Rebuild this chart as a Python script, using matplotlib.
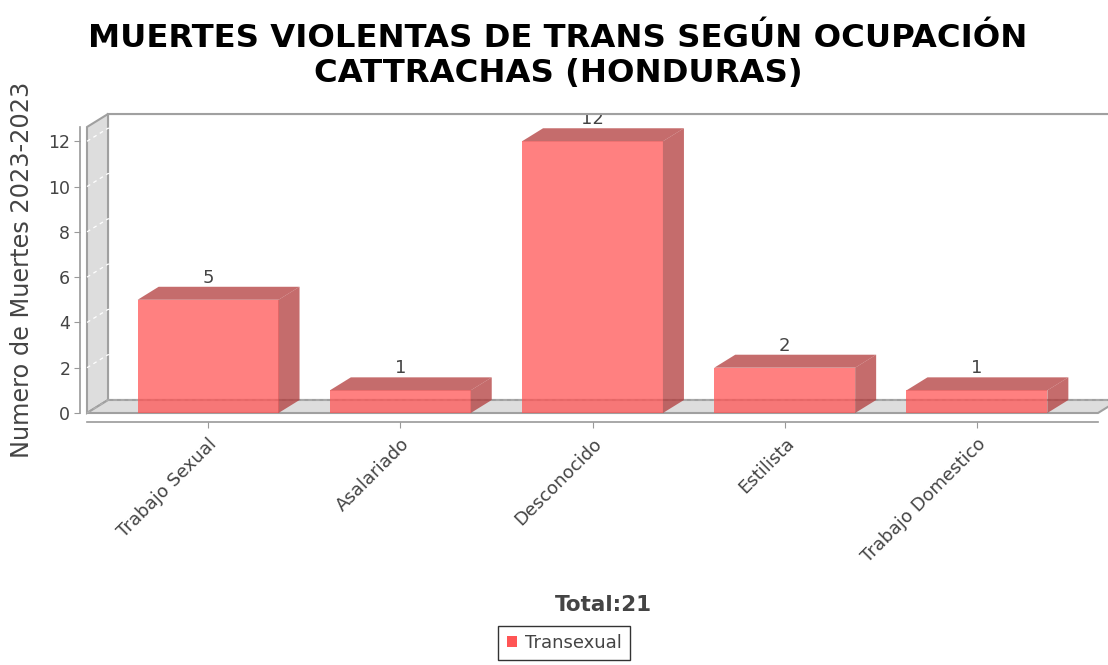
import matplotlib
matplotlib.use("Agg")
import matplotlib.pyplot as plt
from matplotlib.patches import Polygon
from matplotlib.lines import Line2D

categories = ["Trabajo Sexual", "Asalariado", "Desconocido", "Estilista", "Trabajo Domestico"]
values = [5, 1, 12, 2, 1]
series_name = "Transexual"
title = "MUERTES VIOLENTAS DE TRANS SEGÚN OCUPACIÓN\nCATTRACHAS (HONDURAS)"
ylabel = "Numero de Muertes 2023-2023"
total_text = "Total:21"
yticks = [0, 2, 4, 6, 8, 10, 12]

W, H = 1108, 665
fig = plt.figure(figsize=(W / 100, H / 100), dpi=100)
plt.rcParams['font.family'] = ['DejaVu Sans']
PT = 72 / 100  # points per pixel

# front plane of the 3D plot in pixels
L, R, B, T = 87, 1098, 413, 127
ax = fig.add_axes([L / W, (H - B) / H, (R - L) / W, (B - T) / H])
xmin, xmax = -0.63, 4.63
ymin, ymax = 0, 12.63
ax.set_xlim(xmin, xmax)
ax.set_ylim(ymin, ymax)

# 3D depth offsets converted to data units
dpx, dpy = 21, 13
dx = dpx * (xmax - xmin) / (R - L)
dy = dpy * (ymax - ymin) / (B - T)
cover_h = 16 * (ymax - ymin) / (B - T)

wall_fc = "#dddddd"
edge_c = "#a0a0a0"

# back wall outline
back = Polygon([(xmin + dx, ymin + dy), (xmin + dx, ymax + dy), (xmax + dx, ymax + dy),
                (xmax + dx, ymin + dy)], closed=True, fc="white", ec=edge_c, lw=1.5,
               clip_on=False, zorder=0)
ax.add_patch(back)
# left wall
lw_ = Polygon([(xmin, ymin), (xmin, ymax), (xmin + dx, ymax + dy), (xmin + dx, ymin + dy)],
              closed=True, fc=wall_fc, ec=edge_c, lw=1.5, clip_on=False, zorder=1)
ax.add_patch(lw_)
# floor
fl = Polygon([(xmin, ymin), (xmax, ymin), (xmax + dx, ymin + dy), (xmin + dx, ymin + dy)],
             closed=True, fc=wall_fc, ec=edge_c, lw=1.5, clip_on=False, zorder=1)
ax.add_patch(fl)

# gridlines (white dashed on walls, gray on floor back edge)
for v in yticks:
    c = "#ffffff" if v > 0 else "#b0b0b0"
    ax.add_line(Line2D([xmin, xmin + dx, xmax + dx], [v, v + dy, v + dy], color=c,
                       lw=0.9, ls=(0, (3, 3)), clip_on=False, zorder=1.5))

# bars
front_c = (1.0, 85 / 255, 85 / 255)
dark_c = (178 / 255, 59 / 255, 59 / 255)
bw = 0.733
x = list(range(len(categories)))
ax.bar(x, values, width=bw, color=front_c, alpha=0.75, zorder=3, lw=0)
for i, v in zip(x, values):
    xl, xr = i - bw / 2, i + bw / 2
    side = Polygon([(xr, 0), (xr + dx, dy), (xr + dx, v + dy), (xr, v)], closed=True,
                   fc=dark_c, alpha=0.75, lw=0, zorder=3)
    top = Polygon([(xl, v), (xr, v), (xr + dx, v + dy), (xl + dx, v + dy)], closed=True,
                  fc=dark_c, alpha=0.75, lw=0, zorder=3)
    ax.add_patch(side)
    ax.add_patch(top)
    ax.annotate(str(v), (i, v + dy), xytext=(0, 0), textcoords="offset points",
                ha="center", va="bottom", fontsize=13, color="#444444", zorder=3.5,
                annotation_clip=False, clip_on=False)

# labels are clipped at the top edge of the plot area (as in the original)
cover = Polygon([(xmin + dx, ymax + dy), (xmax + dx, ymax + dy), (xmax + dx, ymax + dy + cover_h),
                 (xmin + dx, ymax + dy + cover_h)], closed=True, fc="white", lw=0,
                clip_on=False, zorder=3.6)
ax.add_patch(cover)
ax.add_line(Line2D([xmin + dx, xmax + dx], [ymax + dy, ymax + dy], color=edge_c, lw=1.5,
                   clip_on=False, zorder=3.7))

# axes styling
for s in ["top", "right"]:
    ax.spines[s].set_visible(False)
ax.spines["left"].set_position(("outward", 7 * PT))
ax.spines["bottom"].set_position(("outward", 9 * PT))
ax.spines["left"].set_color("#999999")
ax.spines["bottom"].set_color("#999999")
ax.spines["left"].set_linewidth(1.2)
ax.spines["bottom"].set_linewidth(1.2)
ax.patch.set_visible(False)
ax.set_yticks(yticks)
ax.set_xticks(x)
ax.set_xticklabels(categories, rotation=45, ha="right", va="top", rotation_mode="anchor",
                   fontsize=13, color="#444444")
ax.tick_params(axis="y", labelsize=12.5, labelcolor="#444444", color="#999999", length=4,
               pad=3)
ax.tick_params(axis="x", color="#999999", length=4, pad=5)
ax.set_ylabel(ylabel, fontsize=17.3, color="#444444", labelpad=10)

fig.text(558 / W, 1 - 56 / H, title, ha="center", va="center", fontsize=23.2,
         fontweight="bold", color="black", linespacing=1.2)
fig.text(603 / W, 1 - 605 / H, total_text, ha="center", va="center", fontsize=15.5,
         fontweight="bold", color="#444444")

leg = fig.legend(handles=[plt.Rectangle((0, 0), 1, 1, fc=(1, 85 / 255, 85 / 255))],
                 labels=[series_name], loc="upper center", bbox_to_anchor=(564 / W, 1 - 626 / H),
                 frameon=True, fancybox=False, edgecolor="black", fontsize=13,
                 handlelength=0.6, handleheight=0.6, handletextpad=0.4, borderpad=0.45,
                 borderaxespad=0)
leg.get_frame().set_linewidth(1.0)
for t in leg.get_texts():
    t.set_color("#444444")

fig.savefig("out.png", dpi=100)
